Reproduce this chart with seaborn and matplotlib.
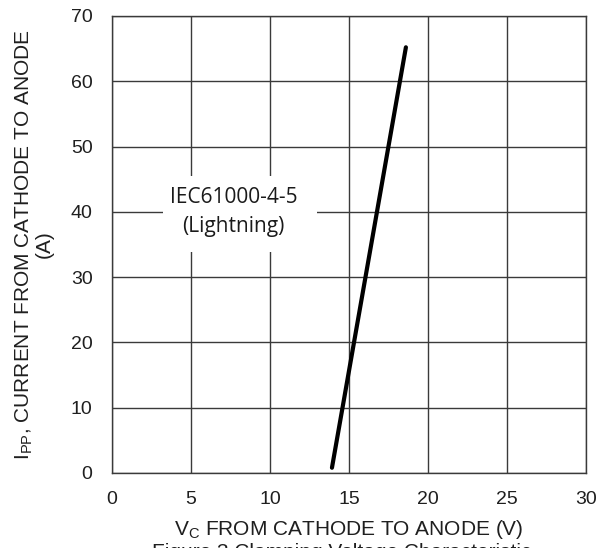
import matplotlib
matplotlib.use("Agg")
import matplotlib.pyplot as plt
from matplotlib.patches import Rectangle
import seaborn as sns
import pandas as pd

# clamping curve
vc = [13.92, 18.6]
ipp = [0.8, 65.2]
x_ticks = [0, 5, 10, 15, 20, 25, 30]
y_ticks = [0, 10, 20, 30, 40, 50, 60, 70]

sns.set_style("white")
plt.rcParams["font.family"] = ["Liberation Sans", "DejaVu Sans"]

df = pd.DataFrame({"vc": vc, "ipp": ipp})

fig = plt.figure(figsize=(6, 5.48), dpi=100)
ax = fig.add_axes([0.1867, 0.1369, 0.79, 0.834])

sns.lineplot(data=df, x="vc", y="ipp", color="black", linewidth=3, ax=ax, zorder=4)

ax.set_xlim(0, 30)
ax.set_ylim(0, 70)
ax.set_xticks(x_ticks)
ax.set_yticks(y_ticks)
ax.grid(True, color="#3a3a3a", linewidth=1)
ax.set_axisbelow(True)
for s in ax.spines.values():
    s.set_color("#3a3a3a")
    s.set_linewidth(1)
ax.tick_params(labelsize=14, colors="#1f1f1f", length=0)
ax.tick_params(axis="x", pad=13)
ax.tick_params(axis="y", pad=14)

ax.set_xlabel(r"V$_{\mathregular{C}}$ FROM CATHODE TO ANODE (V)", fontsize=15, color="#1f1f1f", labelpad=7)
ax.set_ylabel("I$_{\\mathregular{PP}}$, CURRENT FROM CATHODE TO ANODE\n(A)", fontsize=15,
              color="#1f1f1f", labelpad=12, linespacing=1.0)

# white patch hiding the grid behind the annotation
ax.add_patch(Rectangle((3.25, 33.8), 9.75, 11.7, facecolor="white", edgecolor="none", zorder=2))
ax.text(7.7, 40.0, "IEC61000-4-5\n(Lightning)", ha="center", va="center", fontsize=15,
        family=["Open Sans", "DejaVu Sans"], linespacing=1.5, color="#1a1a1a", zorder=3)

# caption sits half below the bottom edge, as in the source scan
fig.text(0.57, -0.009, "Figure 3 Clamping Voltage Characteristic", ha="center", va="center",
         fontsize=15, color="#1f1f1f")

fig.savefig("out.png", dpi=100)
